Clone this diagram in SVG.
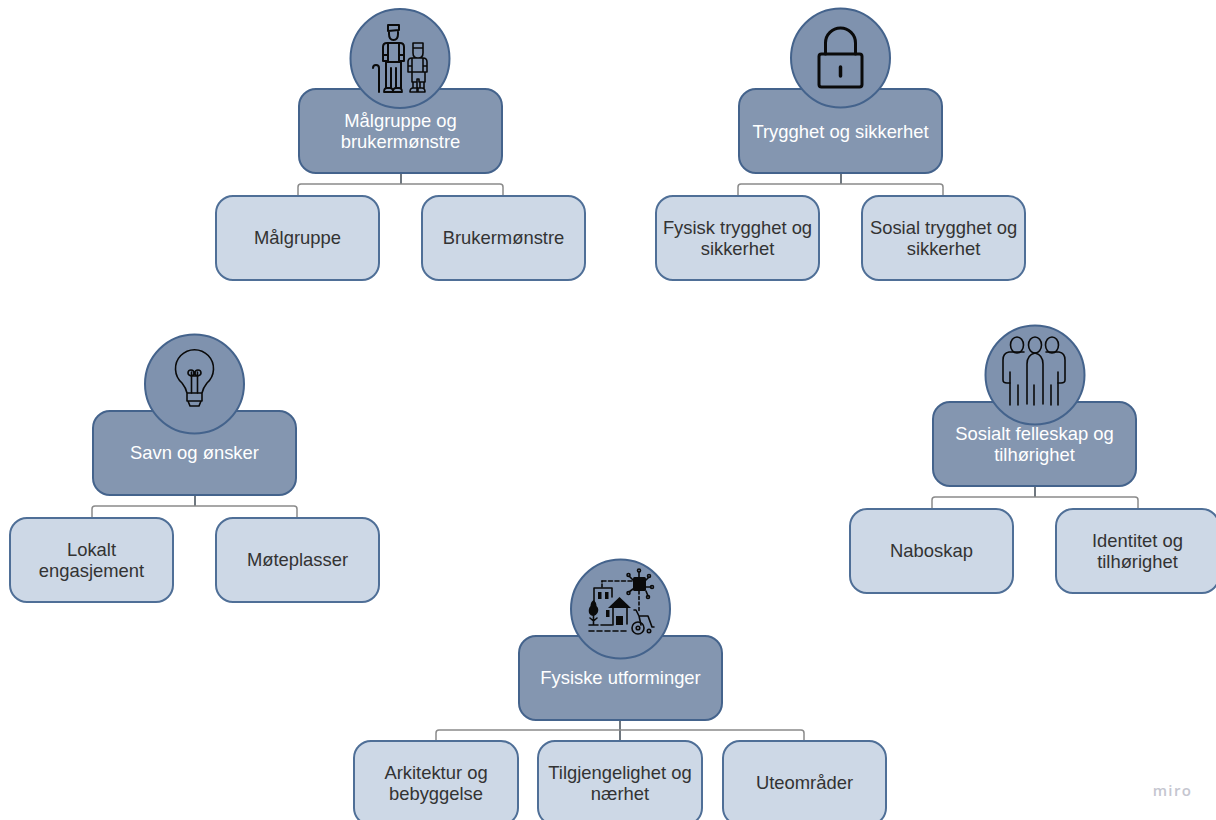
<svg xmlns="http://www.w3.org/2000/svg" width="1216" height="820" viewBox="0 0 1216 820">
<style>
.p{fill:#8496b0;stroke:#44638c;stroke-width:2}
.c{fill:#cdd8e6;stroke:#4f6f97;stroke-width:2}
.o{fill:#7f92ae;stroke:#44638c;stroke-width:2}
.t{font-family:"Liberation Sans",Arial,sans-serif;font-size:18.4px;text-anchor:middle;fill:#333}
.w{fill:#fff}
.l{fill:none;stroke:#8a8a8a;stroke-width:1.5}
.d{fill:none;stroke:#3f4a55;stroke-width:1.5}
.i{fill:none;stroke:#0a0a0a;stroke-width:2;stroke-linecap:round;stroke-linejoin:round}
.s{stroke-width:1.6}
.b{fill:#0a0a0a;stroke:none}
</style>
<rect width="1216" height="820" fill="#fff"/>
<g id="connectors">
<path class="d" d="M401 173V184"/><path class="l" d="M298 196V187a3 3 0 0 1 3-3H500a3 3 0 0 1 3 3V196"/>
<path class="d" d="M841 173V184"/><path class="l" d="M738 196V187a3 3 0 0 1 3-3H940a3 3 0 0 1 3 3V196"/>
<path class="d" d="M195 495V506"/><path class="l" d="M92 518V509a3 3 0 0 1 3-3H294a3 3 0 0 1 3 3V518"/>
<path class="d" d="M1035 486V497"/><path class="l" d="M932 509V500a3 3 0 0 1 3-3H1135a3 3 0 0 1 3 3V509"/>
<path class="d" d="M620 720V741"/><path class="l" d="M436 741V733a3 3 0 0 1 3-3H801a3 3 0 0 1 3 3V741"/>
</g>
<g id="node-malgruppe-og-brukermonstre">
<rect class="p" x="299" y="89" width="203" height="84" rx="17"/>
<circle class="o" cx="400" cy="58.500" r="49.500"/>
<g class="i">
<path d="M388 31v-6h11v5zM389 31v3q0 6 4.500 6t4.500-6v-4"/>
<path d="M383 59V47q0-4 4-4h13q4 0 4 4v12M383 55h5v6h-5zM399 55h5v6h-5zM388 44v18M399 44v18M386 62h15M386 62v26M401 62v26M391 68v20M396 68v20"/>
<path d="M384 92q0-4 3-4h3q3 0 3 4zM393 92q0-4 3-4h3q3 0 3 4z" stroke-width="1.800"/>
<path d="M379 92V68a3 3 0 0 0-6 0"/>
<path class="s" d="M413 48v-5h10v5zM413 48v5q0 5 5 5t5-5v-5M408 68V62q0-4 4-4h11q4 0 4 4v6M408 66h4v6h-4zM427 66h-4v6h4zM412 58v14M423 58v14M412 72h13v10h-6v-3h-2v3h-5zM413 82v6M417 82v6M420 82v6M424 82v6M410 92q0-4 3-4h4v4zM418 92v-4h4q3 0 3 4z"/>
</g>
<text class="t w" x="400.500" y="127">Målgruppe og</text><text class="t w" x="400.500" y="148">brukermønstre</text>
</g>
<g id="node-malgruppe"><rect class="c" x="216" y="196" width="163" height="84" rx="17"/><text class="t" x="297.500" y="244">Målgruppe</text></g>
<g id="node-brukermonstre"><rect class="c" x="422" y="196" width="163" height="84" rx="17"/><text class="t" x="503.500" y="244">Brukermønstre</text></g>
<g id="node-trygghet-og-sikkerhet">
<rect class="p" x="739" y="89" width="203" height="84" rx="17"/>
<circle class="o" cx="840.500" cy="58" r="49.500"/>
<g class="i" style="stroke-width:3"><path d="M825.500 54V43a15 15 0 0 1 30 0V54"/><rect x="819" y="54" width="43" height="33" rx="2.500"/><path d="M840.500 67v9" stroke-width="3.500"/></g>
<text class="t w" x="840.500" y="138">Trygghet og sikkerhet</text>
</g>
<g id="node-fysisk-trygghet"><rect class="c" x="656" y="196" width="163" height="84" rx="17"/><text class="t" x="737.500" y="234">Fysisk trygghet og</text><text class="t" x="737.500" y="255">sikkerhet</text></g>
<g id="node-sosial-trygghet"><rect class="c" x="862" y="196" width="163" height="84" rx="17"/><text class="t" x="943.500" y="234">Sosial trygghet og</text><text class="t" x="943.500" y="255">sikkerhet</text></g>
<g id="node-savn-og-onsker">
<rect class="p" x="93" y="411" width="203" height="84" rx="17"/>
<circle class="o" cx="194.500" cy="384" r="49.500"/>
<g class="i s"><path d="M187 393q-1-5-5-10a19 19 0 1 1 25 0q-4 5-5 10zM187 393v8h15v-8M188 401l2 5h9l2-5"/><path d="M191.500 393V372M197.500 393V372M191 376a3 3 0 1 0-3-3q0 2 3 3h7q3-1 3-3a3 3 0 1 0-3 3"/></g>
<text class="t w" x="194.500" y="459">Savn og ønsker</text>
</g>
<g id="node-lokalt-engasjement"><rect class="c" x="10" y="518" width="163" height="84" rx="17"/><text class="t" x="91.500" y="556">Lokalt</text><text class="t" x="91.500" y="577">engasjement</text></g>
<g id="node-moteplasser"><rect class="c" x="216" y="518" width="163" height="84" rx="17"/><text class="t" x="297.500" y="566">Møteplasser</text></g>
<g id="node-sosialt-felleskap">
<rect class="p" x="933" y="402" width="203" height="84" rx="17"/>
<circle class="o" cx="1035" cy="375" r="49.500"/>
<g class="i s"><ellipse cx="1017" cy="345" rx="6.500" ry="8"/><ellipse cx="1035" cy="345" rx="6.500" ry="8"/><ellipse cx="1052" cy="345" rx="6.500" ry="8"/>
<path d="M1024 352h-15q-6 1-6 8v20q0 3 4 3h3M1046 352h13q6 1 6 8v20q0 3-4 3h-3"/>
<path d="M1027 404V364q0-9 8-11 8 2 8 11v40"/>
<path d="M1010 372v33M1018 385v20M1034 385v20M1051 385v20M1058 372v33"/></g>
<text class="t w" x="1034.500" y="440">Sosialt felleskap og</text><text class="t w" x="1034.500" y="461">tilhørighet</text>
</g>
<g id="node-naboskap"><rect class="c" x="850" y="509" width="163" height="84" rx="17"/><text class="t" x="931.500" y="557">Naboskap</text></g>
<g id="node-identitet"><rect class="c" x="1056" y="509" width="163" height="84" rx="17"/><text class="t" x="1137.500" y="547">Identitet og</text><text class="t" x="1137.500" y="568">tilhørighet</text></g>
<g id="node-fysiske-utforminger">
<rect class="p" x="519" y="636" width="203" height="84" rx="17"/>
<circle class="o" cx="620.500" cy="609" r="49.500"/>
<g class="i s">
<path d="M594 603V588h18v9"/>
<path d="M602 587v-6" stroke-dasharray="3 2"/><path d="M602 581h31" stroke-dasharray="4 2.500"/>
<rect class="b" x="633" y="577" width="13" height="14" rx="1.500"/>
<path d="M639 577v-5M633 580l-4-4M646 580l3-3M646 587h5M633 589l-4 3M646 591l2 5"/>
<path d="M639 591v20" stroke-dasharray="3 2.500"/>
<circle cx="639" cy="570.500" r="1.500"/><circle cx="628.500" cy="575" r="1.500"/><circle cx="649" cy="576" r="1.500"/><circle cx="652" cy="587" r="1.500"/><circle cx="628.500" cy="593" r="1.500"/><circle cx="648" cy="597" r="1.500"/>
<rect class="b" x="598" y="592" width="3.500" height="7"/><rect class="b" x="605" y="592" width="3.500" height="7"/><rect class="b" x="606" y="610" width="3.500" height="7"/>
<path class="b" d="M608 608l11.500-11 11.500 11z"/><path d="M613 608v17M627 608v16"/><rect class="b" x="616" y="616" width="7" height="9"/>
<path class="b" d="M593.500 600q3 2 3 6 3 3 1 7-2 3-4 3-3 0-4.500-3-1-4 1.500-7 0-4 3-6z"/>
<path d="M593.500 614v11M590 618l3.500 3 3.500-3M589 625h9M601 625h11"/>
<path d="M589 631h40" stroke-dasharray="5 3"/>
<path d="M634 610l2 0 3 6 2 9M640 616h8l4 11h2"/>
<circle cx="638" cy="628" r="6"/><circle cx="638" cy="628" r="1.800"/><circle cx="649" cy="631" r="1.700"/>
</g>
<text class="t w" x="620.500" y="684">Fysiske utforminger</text>
</g>
<g id="node-arkitektur"><rect class="c" x="354" y="741" width="164" height="84" rx="17"/><text class="t" x="436" y="779">Arkitektur og</text><text class="t" x="436" y="800">bebyggelse</text></g>
<g id="node-tilgjengelighet"><rect class="c" x="538" y="741" width="164" height="84" rx="17"/><text class="t" x="620" y="779">Tilgjengelighet og</text><text class="t" x="620" y="800">nærhet</text></g>
<g id="node-uteomrader"><rect class="c" x="723" y="741" width="163" height="84" rx="17"/><text class="t" x="804.500" y="789">Uteområder</text></g>
<text x="1172.500" y="796" text-anchor="middle" style="font-family:'Open Sans',sans-serif;font-size:15px;font-weight:600;letter-spacing:1.4px;fill:#c5c6d0">miro</text>
</svg>
